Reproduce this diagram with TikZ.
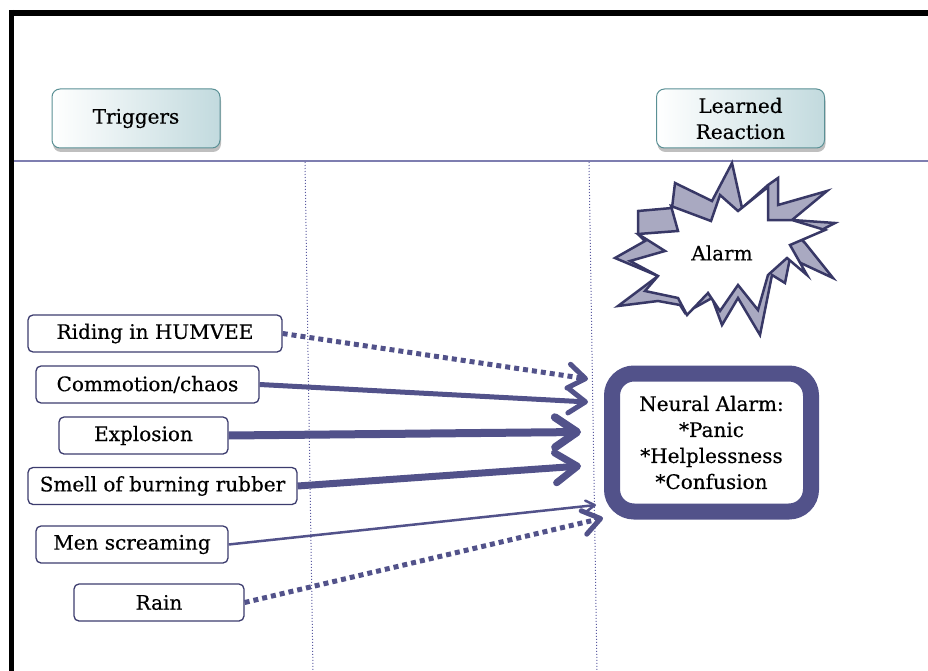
\documentclass[tikz,border=0pt]{standalone}
\usepackage{fontspec}
\setmainfont{DejaVu Serif}[FakeBold=0.4]
\usetikzlibrary{arrows.meta,shadows}
\definecolor{navy}{HTML}{52528A}
\definecolor{boxline}{HTML}{3C3C6E}
\definecolor{tealline}{HTML}{5A9095}
\definecolor{tealfill}{HTML}{C2DADE}
\definecolor{rulecol}{HTML}{7E7EB0}
\definecolor{gridcol}{HTML}{5A5AA0}
\definecolor{starfill}{HTML}{A9A9C1}
\definecolor{starline}{HTML}{383866}
\begin{document}
\begin{tikzpicture}[x=1pt,y=-1pt,
  font=\fontsize{20}{26}\selectfont,
  header/.style={draw=tealline, line width=1pt, rounded corners=8pt,
    left color=white, right color=tealfill, minimum width=168pt,
    minimum height=59pt, align=center, inner sep=0pt,
    drop shadow={shadow xshift=1pt, shadow yshift=-4pt, opacity=0.5}},
  trigger/.style={draw=boxline, line width=1.3pt, fill=white,
    rounded corners=5pt, minimum height=37pt, inner sep=0pt},
  link/.style={draw=navy, line cap=butt},
  dotlink/.style={link, line width=5pt, dash pattern=on 5pt off 4pt},
  bighead/.style={-{Straight Barb[length=22pt,width=30pt,line cap=round,line join=round]}},
  midhead/.style={-{Straight Barb[length=17pt,width=24pt,line cap=round,line join=round]}},
  smallhead/.style={-{Straight Barb[length=9pt,width=11pt,line cap=round,line join=round]}},
  burst/.style={draw=starline, line width=2.5pt, line join=miter}
]
\useasboundingbox (0,0) rectangle (928,671);

% frame and column rules
\draw[line width=6pt] (9,13) -- (928,13);
\draw[line width=5pt] (11.5,10) -- (11.5,671);
\draw[rulecol, line width=2pt] (14,161.5) -- (928,161.5);
\draw[gridcol, line width=1pt, dotted] (305,162) -- (313,671);
\draw[gridcol, line width=1pt, dotted] (589,162) -- (597,671);

% column headers
\node[header] (trig) at (136,118.5) {Triggers};
\node[header] (learn) at (740.5,118.5) {Learned\\Reaction};

% alarm burst: shaded back face, then white front face
\filldraw[burst, fill=starfill] (615,258) -- (645,241) -- (638,234) -- (638,211)
  -- (672,208) -- (675,183) -- (712,201) -- (732,163) -- (742,208) -- (768,185)
  -- (778,178) -- (778,205) -- (827,191) -- (792,220) -- (835,223) -- (802,240)
  -- (805,243) -- (833,278) -- (790,258) -- (785,283) -- (772,275) -- (760,335)
  -- (738,298) -- (722,325) -- (712,298) -- (685,313) -- (680,305) -- (658,301)
  -- (618,306) -- (658,276) -- cycle;
\filldraw[burst, fill=white] (638,234) -- (678,231) -- (671,206) -- (711,221)
  -- (720,195) -- (738,211) -- (768,187) -- (768,220) -- (792,220) -- (825,230)
  -- (790,245) -- (807,275) -- (787,258) -- (768,275) -- (758,310) -- (738,285)
  -- (720,311) -- (708,293) -- (687,315) -- (678,298) -- (645,291) -- (658,276)
  -- (630,261) -- (665,251) -- cycle;
\node (alarm) at (722,253) {Alarm};

% neural alarm box
\node[draw=navy, line width=16pt, rounded corners=22pt, fill=white,
  minimum width=199pt, minimum height=138pt, align=center, inner sep=0pt]
  (neural) at (711.5,442.5) {Neural Alarm:\\*Panic\\*Helplessness\\*Confusion};

% triggers
\node[trigger, minimum width=254pt] (humvee) at (155,333.5) {Riding in HUMVEE};
\node[trigger, minimum width=223pt] (chaos) at (147.5,384.5) {Commotion/chaos};
\node[trigger, minimum width=169pt] (expl) at (143.5,435.5) {Explosion};
\node[trigger, minimum width=269pt] (smell) at (162.5,486) {Smell of burning rubber};
\node[trigger, minimum width=192pt] (men) at (132,544.5) {Men screaming};
\node[trigger, minimum width=170pt] (rain) at (159,602.5) {Rain};

% arrow tips ending before the neural alarm box
\coordinate (e1) at (588,379);
\coordinate (e2) at (588,402);
\coordinate (e3) at (581,432);
\coordinate (e4) at (581,466);
\coordinate (e5) at (596,505);
\coordinate (e6) at (603,518);

\draw[dotlink, midhead] (humvee.east) -- (e1);
\draw[link, line width=5pt, midhead] (chaos.east) -- (e2);
\draw[link, line width=8pt, bighead] (expl.east) -- (e3);
\draw[link, line width=7pt, bighead] (smell.east) -- (e4);
\draw[link, line width=2.5pt, smallhead] (men.east) -- (e5);
\draw[dotlink, midhead] (rain.east) -- (e6);
\end{tikzpicture}
\end{document}
